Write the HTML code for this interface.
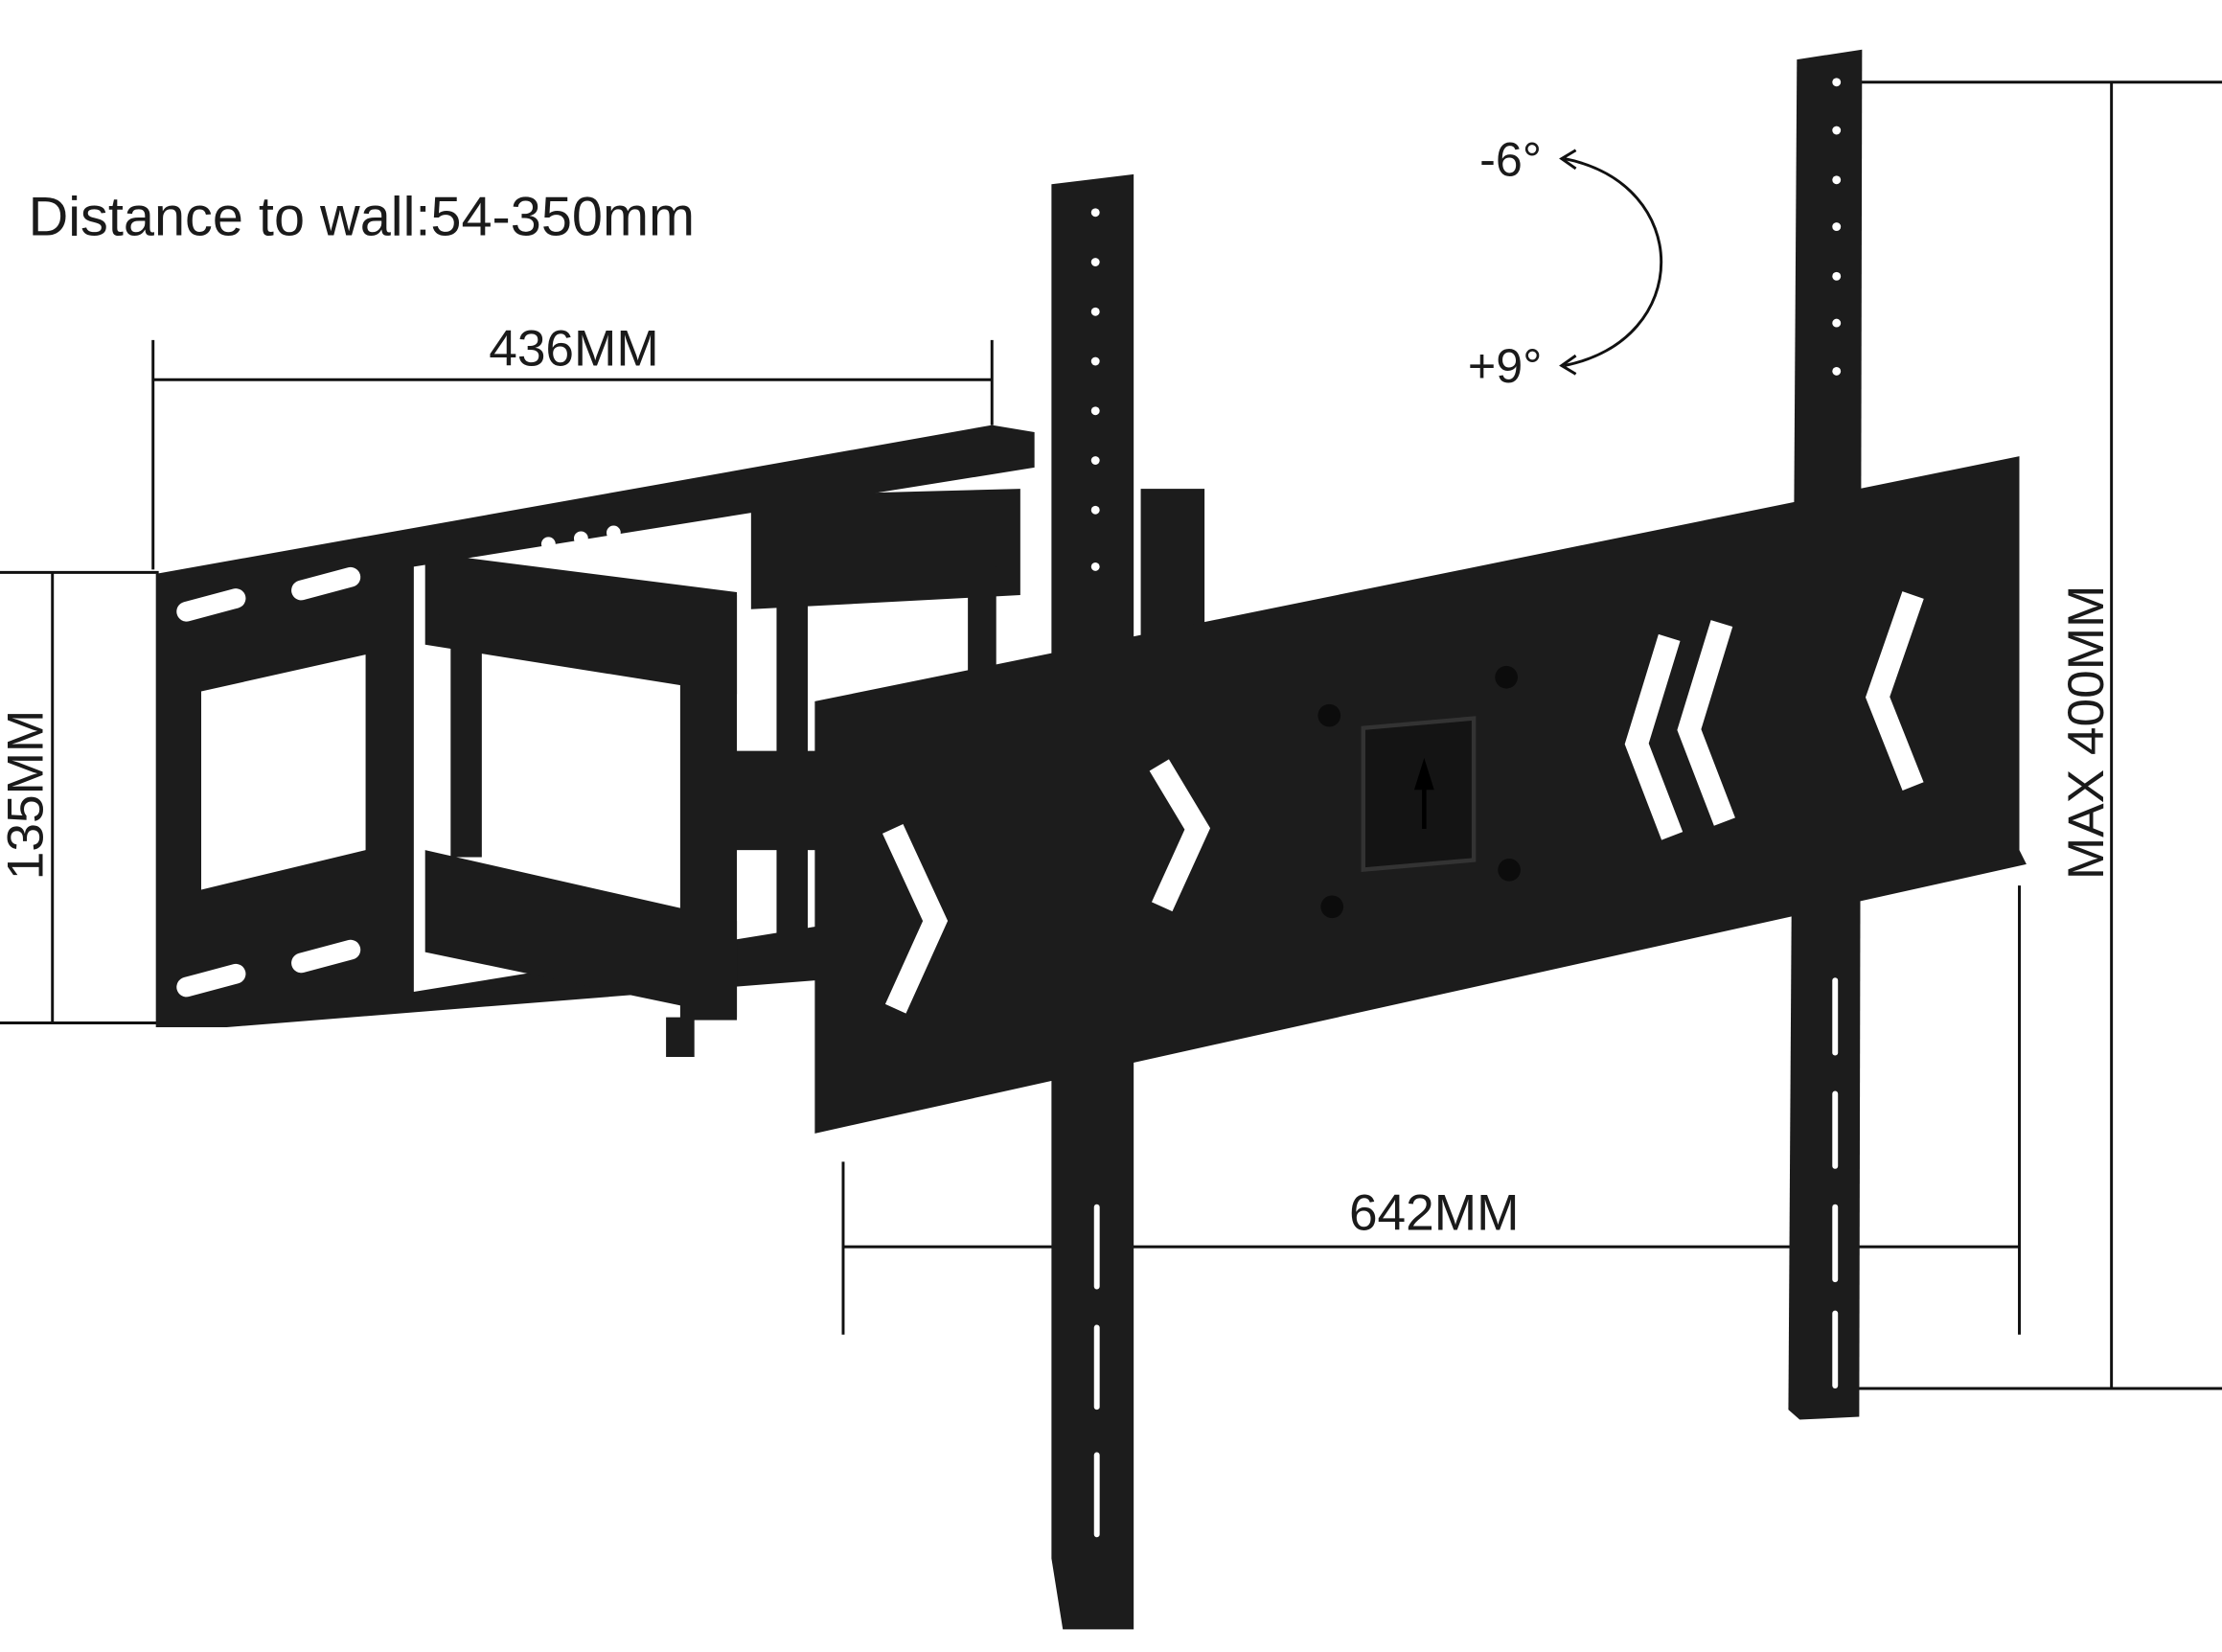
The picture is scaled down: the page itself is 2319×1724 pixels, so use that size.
<!DOCTYPE html>
<html><head><meta charset="utf-8"><style>
html,body{margin:0;padding:0;background:#fff;}
svg{display:block}
text{font-family:"Liberation Sans",Arial,sans-serif;fill:#1a1a1a}
</style></head><body>
<svg width="2319" height="1724" viewBox="0 0 1568 1166" preserveAspectRatio="none" xmlns="http://www.w3.org/2000/svg">
<rect width="1568" height="1166" fill="#fff"/>
<g stroke="#111" stroke-width="2" fill="none">
<line x1="108" y1="268" x2="700" y2="268"/>
<line x1="108" y1="240" x2="108" y2="402"/>
<line x1="700" y1="240" x2="700" y2="300"/>
<line x1="37" y1="404" x2="37" y2="722"/>
<line x1="0" y1="404" x2="112" y2="404"/>
<line x1="0" y1="722" x2="112" y2="722"/>
<line x1="1490" y1="58" x2="1490" y2="980"/>
<line x1="1300" y1="58" x2="1568" y2="58"/>
<line x1="1290" y1="980" x2="1568" y2="980"/>
<line x1="595" y1="880" x2="1425" y2="880"/>
<line x1="595" y1="820" x2="595" y2="942"/>
<line x1="1425" y1="625" x2="1425" y2="942"/>
<path d="M1104,112 C1195,130 1195,240 1104,258"/>
<path d="M1112,106 L1102,112 L1112,119"/>
<path d="M1112,251 L1102,258 L1112,264"/>
</g>
<text x="20" y="166" font-size="39">Distance to wall:54-350mm</text>
<text x="405" y="258" font-size="36" text-anchor="middle">436MM</text>
<text x="1012" y="868" font-size="36" text-anchor="middle">642MM</text>
<text x="1066" y="124" font-size="34" text-anchor="middle">-6°</text>
<text x="1062" y="270" font-size="34" text-anchor="middle">+9°</text>
<text transform="translate(30,561) rotate(-90)" font-size="36" text-anchor="middle">135MM</text>
<text transform="translate(1484,517) rotate(-90)" font-size="36" text-anchor="middle">MAX 400MM</text>

<g fill="#1c1c1c">
<polygon points="110,405 700,300 730,305 730,330 292,400 292,700 600,650 600,690 160,725 110,725"/>
<polygon points="300,390 520,418 520,490 300,455"/>
<polygon points="300,600 520,650 520,718 300,672"/>
<polygon points="530,350 720,345 720,420 530,430"/>
<rect x="318" y="455" width="22" height="150"/>
<rect x="548" y="420" width="22" height="260"/>
<rect x="480" y="420" width="40" height="300"/>
<rect x="500" y="530" width="90" height="70"/>
<rect x="805" y="345" width="45" height="140"/>
<rect x="683" y="400" width="20" height="170"/>
<rect x="470" y="718" width="20" height="28"/>
<polygon points="575,495 1425,322 1425,600 1430,610 575,800"/>
<polygon points="742,130 800,123 800,1150 750,1150 742,1100"/>
<polygon points="1268,42 1314,35 1312,1000 1270,1002 1262,995"/>
</g>
<g fill="#fff">
<path d="M142,488 L258,462 L258,600 L142,628 Z" />
<rect x="124" y="420" width="50" height="14" rx="7" transform="rotate(-15 149 427)"/>
<rect x="205" y="405" width="50" height="14" rx="7" transform="rotate(-15 230 412)"/>
<rect x="124" y="685" width="50" height="14" rx="7" transform="rotate(-15 149 692)"/>
<rect x="205" y="668" width="50" height="14" rx="7" transform="rotate(-15 230 675)"/>
<circle cx="387" cy="384" r="5"/><circle cx="410" cy="380" r="5"/><circle cx="433" cy="376" r="5"/>
</g>
<g fill="none" stroke="#fff" stroke-width="16" stroke-linejoin="miter">
<polyline points="1178,450 1155,525 1180,590"/>
<polyline points="1215,440 1192,515 1217,580"/>
<polyline points="1350,420 1325,492 1350,555"/>
<polyline points="630,585 660,650 632,712"/>
<polyline points="818,540 845,585 820,640"/>
</g>
<rect x="962" y="510" width="78" height="100" fill="#141414" stroke="#333" stroke-width="3" transform="skewY(-5) translate(0,88)"/>
<path d="M1005,585 L1005,550 M1000,556 L1005,540 L1010,556 Z" stroke="#000" stroke-width="3" fill="#000"/>
<g fill="#0c0c0c"><circle cx="938" cy="505" r="8"/><circle cx="1063" cy="478" r="8"/><circle cx="940" cy="640" r="8"/><circle cx="1065" cy="614" r="8"/></g>
<g fill="#fff">
<circle cx="773" cy="150" r="3"/><circle cx="773" cy="185" r="3"/><circle cx="773" cy="220" r="3"/><circle cx="773" cy="255" r="3"/><circle cx="773" cy="290" r="3"/><circle cx="773" cy="325" r="3"/><circle cx="773" cy="360" r="3"/><circle cx="773" cy="400" r="3"/>
<circle cx="1296" cy="58" r="3"/><circle cx="1296" cy="92" r="3"/><circle cx="1296" cy="127" r="3"/><circle cx="1296" cy="160" r="3"/><circle cx="1296" cy="195" r="3"/><circle cx="1296" cy="228" r="3"/><circle cx="1296" cy="262" r="3"/>
<rect x="772" y="850" width="4" height="60" rx="2"/><rect x="772" y="935" width="4" height="60" rx="2"/><rect x="772" y="1025" width="4" height="60" rx="2"/>
<rect x="1293" y="690" width="4" height="55" rx="2"/><rect x="1293" y="770" width="4" height="55" rx="2"/><rect x="1293" y="850" width="4" height="55" rx="2"/><rect x="1293" y="925" width="4" height="55" rx="2"/>
</g>
</svg>
</body></html>
